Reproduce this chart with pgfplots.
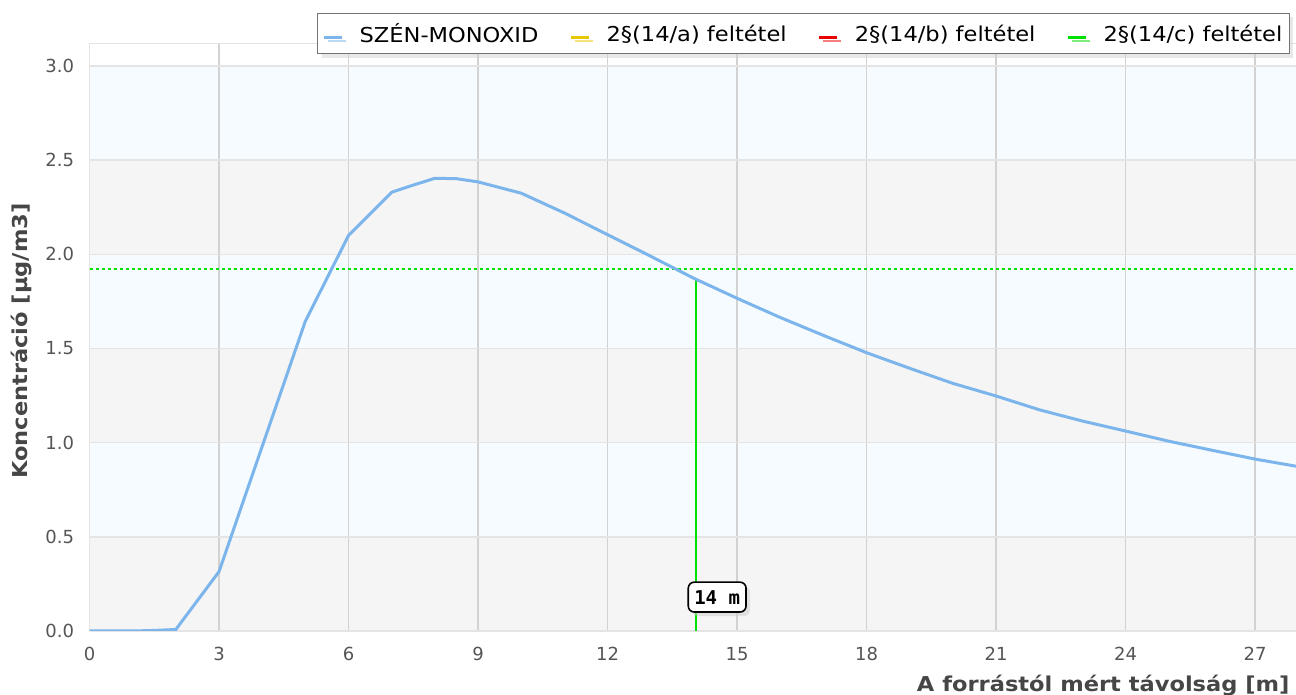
\documentclass[border=0pt]{standalone}
\usepackage{fontspec}
\setmainfont{DejaVu Sans}
\newfontfamily\legfont{DejaVu Sans}[FakeStretch=1.1]
\newfontfamily\monofont{DejaVu Sans Mono}
\usepackage{pgfplots}
\pgfplotsset{compat=1.18}
\usetikzlibrary{shadows}

\definecolor{coblue}{RGB}{124,181,236}
\definecolor{limyellow}{RGB}{232,200,0}
\definecolor{limred}{RGB}{235,0,0}
\definecolor{limgreen}{RGB}{0,225,0}
\definecolor{bandblue}{RGB}{246,251,255}
\definecolor{bandgrey}{RGB}{245,245,245}
\definecolor{vgrid}{RGB}{210,210,210}
\definecolor{hgrid}{RGB}{228,228,228}
\definecolor{ticktext}{RGB}{85,85,85}
\definecolor{labeltext}{RGB}{70,70,70}

\pgfplotstableread{
x y
0 0
1 0
1.5 0.003
2 0.008
3 0.315
4 0.98
5 1.645
6 2.10
7 2.33
7.5 2.368
8 2.404
8.5 2.402
9 2.385
10 2.325
11 2.22
12 2.105
13 1.99
14 1.873
15 1.767
16 1.665
17 1.57
18 1.478
19 1.395
20 1.315
21 1.248
22 1.175
23 1.115
24 1.062
25 1.008
26 0.96
27 0.913
28 0.873
}\codata

\begin{document}
\begin{tikzpicture}
\begin{axis}[
  at={(0pt,0pt)}, anchor=south west,
  scale only axis, width=1206.5pt, height=587.7pt,
  xmin=0, xmax=27.95, ymin=0, ymax=3.121,
  set layers=standard,
  xtick={0,3,...,27}, ytick={0,0.5,...,3.0},
  yticklabel style={/pgf/number format/fixed, /pgf/number format/fixed zerofill, /pgf/number format/precision=1},
  /pgf/number format/assume math mode=true,
  tick label style={font=\fontsize{18}{20}\selectfont, text=ticktext},
  major tick length=0pt,
  xticklabel style={yshift=-13pt},
  yticklabel style={xshift=-12pt},
  xmajorgrids, ymajorgrids,
  x grid style={draw=vgrid, line width=1.5pt},
  y grid style={draw=hgrid, line width=1.5pt},
  axis line style={draw=hgrid, line width=1.5pt},
  axis x line*=bottom, axis y line*=left,
  xlabel={A forrástól mért távolság [m]},
  xlabel style={at={(axis description cs:1,0)}, anchor=base east, yshift=-61pt, xshift=-3pt,
    font=\legfont\bfseries\fontsize{20.5}{24}\selectfont, text=labeltext},
  ylabel={Koncentráció [µg/m3]},
  ylabel style={at={(axis description cs:0,0.5)}, anchor=base, yshift=62pt, xshift=-4pt,
    font=\legfont\bfseries\fontsize{20.5}{24}\selectfont, text=labeltext},
  legend columns=4,
  legend image code/.code={\draw[#1, line width=3pt] (0pt,-3.5pt) -- (18pt,-3.5pt);},
  legend style={at={(axis description cs:0.995,1.052)}, anchor=north east,
    font=\legfont\fontsize{20.5}{24}\selectfont,
    draw=black!55, line width=1.2pt, fill=white,
    inner xsep=5pt, inner ysep=8pt,
    drop shadow={shadow xshift=4pt, shadow yshift=-4pt, fill=black!18},
    /tikz/every odd column/.append style={column sep=14pt},
    /tikz/every even column/.append style={column sep=29pt}},
]
% background bands
\begin{pgfonlayer}{axis background}
\fill[bandgrey] (axis cs:0,0) rectangle (axis cs:28,0.5);
\fill[bandblue] (axis cs:0,0.5) rectangle (axis cs:28,1.0);
\fill[bandgrey] (axis cs:0,1.0) rectangle (axis cs:28,1.5);
\fill[bandblue] (axis cs:0,1.5) rectangle (axis cs:28,2.0);
\fill[bandgrey] (axis cs:0,2.0) rectangle (axis cs:28,2.5);
\fill[bandblue] (axis cs:0,2.5) rectangle (axis cs:28,3.0);
\end{pgfonlayer}
\draw[hgrid, line width=1.5pt] (rel axis cs:0,1) -- (rel axis cs:1,1);

\addlegendimage{coblue}
\addlegendentry{SZÉN-MONOXID}
\addlegendimage{limyellow}
\addlegendentry{2§(14/a) feltétel}
\addlegendimage{limred}
\addlegendentry{2§(14/b) feltétel}
\addlegendimage{limgreen}
\addlegendentry{2§(14/c) feltétel}

\addplot[forget plot, limgreen, line width=2.5pt, dash pattern=on 3pt off 3pt] coordinates {(0,1.922) (28,1.922)};
\addplot[forget plot, limgreen, line width=1.5pt] coordinates {(14.05,0) (14.05,1.873)};
\addplot[forget plot, coblue, line width=3pt] table[x=x,y=y] {\codata};

\node[draw=black, line width=1.6pt, rounded corners=6pt, fill=white,
  drop shadow={shadow xshift=4pt, shadow yshift=-4pt, fill=black!20},
  font=\monofont\bfseries\fontsize{19}{20}\selectfont,
  inner xsep=6pt, inner ysep=8pt] at (axis cs:14.54,0.18) {14 m};
\end{axis}
\pgfresetboundingbox
\useasboundingbox (-89.5pt,-64pt) rectangle (1206.5pt,631pt);
\end{tikzpicture}
\end{document}
